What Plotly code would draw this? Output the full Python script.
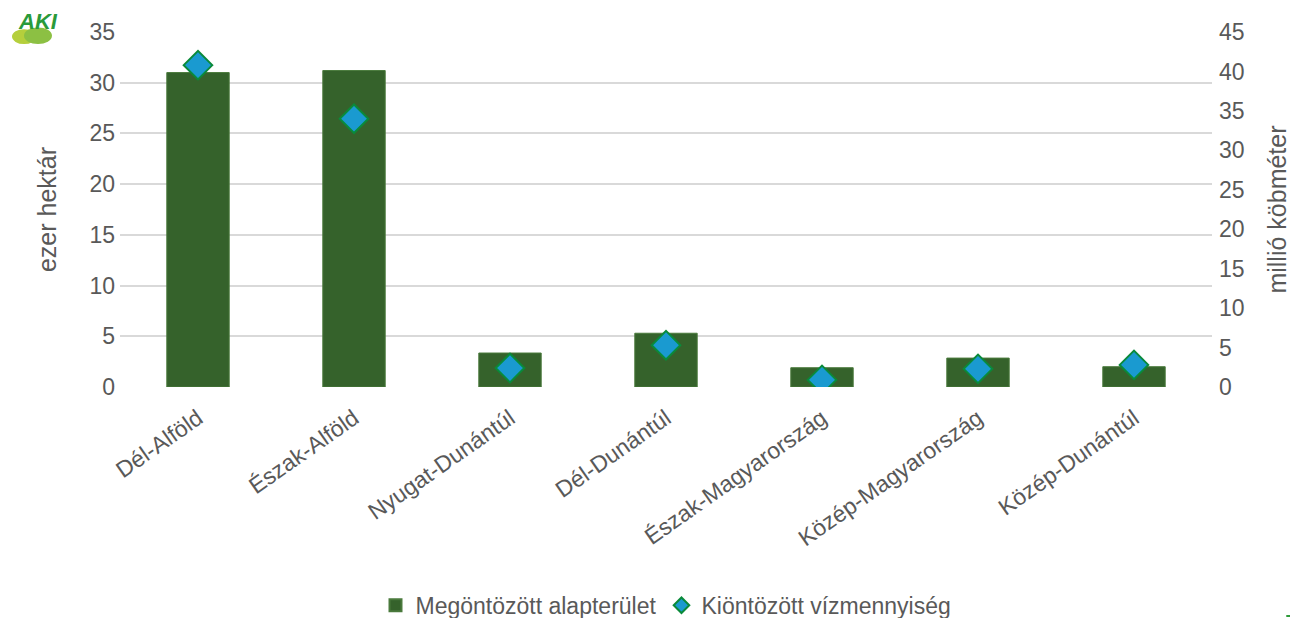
import plotly.graph_objects as go

categories = ["Dél-Alföld", "Észak-Alföld", "Nyugat-Dunántúl", "Dél-Dunántúl",
              "Észak-Magyarország", "Közép-Magyarország", "Közép-Dunántúl"]
area_thousand_ha = [31.0, 31.2, 3.35, 5.3, 1.9, 2.85, 2.0]
water_million_m3 = [40.8, 34.0, 2.4, 5.3, 0.9, 2.3, 2.8]

FONT = "Liberation Sans, Arial, sans-serif"
TXT = "#595959"

fig = go.Figure()
fig.add_trace(go.Bar(
    x=categories, y=area_thousand_ha, name="Megöntözött alapterület",
    marker=dict(color="#35622b", line=dict(color="#4a7a3c", width=1)),
    width=0.4, yaxis="y"))
fig.add_trace(go.Scatter(
    x=categories, y=water_million_m3, name="Kiöntözött vízmennyiség",
    mode="markers", yaxis="y2",
    marker=dict(symbol="diamond", size=22, color="#1a9ad0",
                line=dict(color="#0a8a3a", width=2))))

fig.update_layout(
    width=1298, height=618,
    margin=dict(l=112, r=94, t=24, b=239, autoexpand=False),
    paper_bgcolor="white", plot_bgcolor="white",
    font=dict(family=FONT, size=23, color=TXT),
    xaxis=dict(tickangle=-35, showgrid=False, showline=False, automargin=False,
               ticks="outside", ticklen=8, tickcolor="rgba(0,0,0,0)",
               tickfont=dict(size=23, color=TXT)),
    yaxis=dict(range=[0, 35], dtick=5, showgrid=True, gridcolor="#d9d9d9",
               gridwidth=2, zeroline=False, automargin=False,
               ticklabelstandoff=4,
               title=dict(text="ezer hektár", font=dict(size=25, color=TXT), standoff=25),
               tickfont=dict(size=23, color=TXT)),
    yaxis2=dict(range=[0, 45], dtick=5, overlaying="y", side="right",
                showgrid=False, zeroline=False, automargin=False,
                ticklabelstandoff=6,
                title=dict(text="millió köbméter", font=dict(size=25, color=TXT), standoff=24),
                tickfont=dict(size=23, color=TXT)),
    legend=dict(orientation="h", x=0.50, xanchor="center", y=-0.615, yanchor="middle",
                font=dict(size=23, color=TXT), itemwidth=30, itemsizing="constant"),
    showlegend=True,
)

# AKI logo (approximation)
fig.add_shape(type="circle", xref="paper", yref="paper",
              x0=-0.0989, x1=-0.0769, y0=0.966, y1=1.008,
              fillcolor="#b5cf3c", line=dict(width=0), layer="above")
fig.add_shape(type="circle", xref="paper", yref="paper",
              x0=-0.0879, x1=-0.0623, y0=0.966, y1=1.013,
              fillcolor="#8cc043", line=dict(width=0), layer="above")
fig.add_annotation(text="<b><i>AKI</i></b>", xref="paper", yref="paper",
                   x=-0.095, y=1.03, xanchor="left", yanchor="middle",
                   showarrow=False, font=dict(size=22, color="#2a9a3a", family=FONT))
fig.add_shape(type="line", xref="paper", yref="paper", x0=1.068, x1=1.078,
              y0=-0.645, y1=-0.645, line=dict(color="#2e9b3a", width=2))

fig.write_html("out.html")
